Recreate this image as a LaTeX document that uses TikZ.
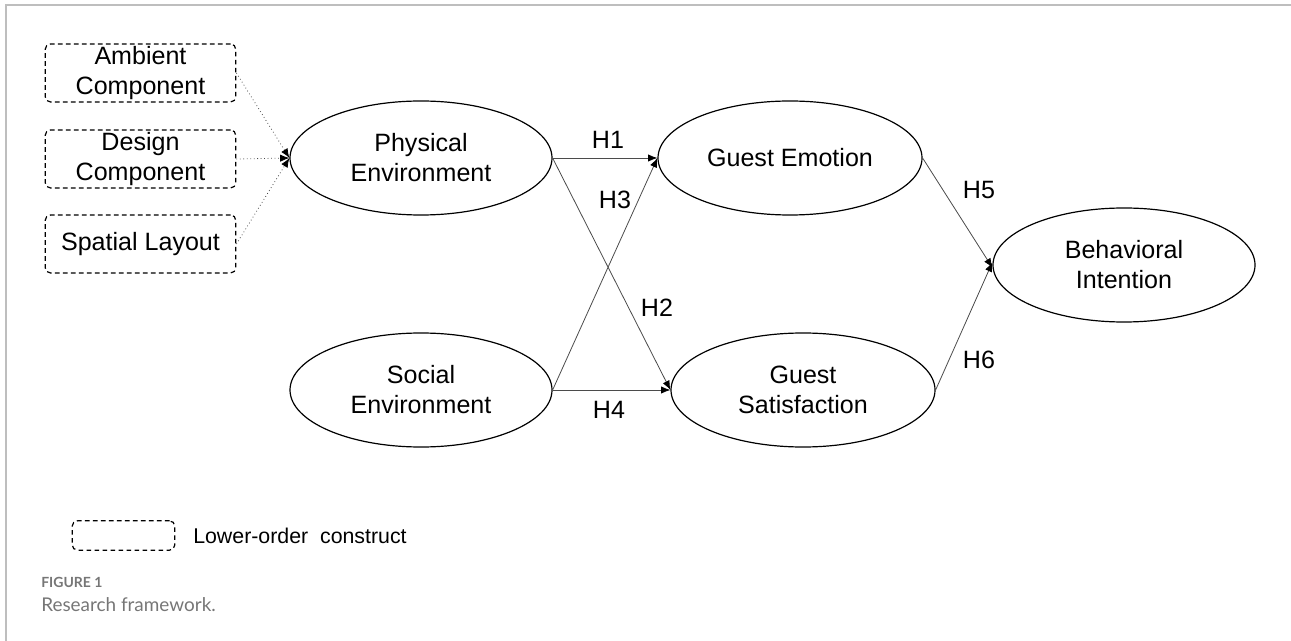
\documentclass[tikz,border=0pt]{standalone}
\usepackage{fontspec}
\setmainfont{Liberation Sans}
\newfontfamily\capfont{Lato}
\usepackage{tikz}
\usetikzlibrary{shapes,arrows.meta}

\definecolor{framegray}{RGB}{190,190,190}
\definecolor{capgray}{RGB}{118,118,118}
\definecolor{linegray}{RGB}{75,75,75}

\tikzset{
    construct/.style={ellipse, draw, line width=0.9pt, minimum width=196.5pt, minimum height=85.5pt,
        inner sep=0pt, align=center, font=\fontsize{18.8}{22.5}\selectfont},
    lowerbox/.style={draw, dash pattern=on 3.5pt off 2.5pt, line width=0.9pt, rounded corners=4pt,
        minimum width=143pt, minimum height=43.5pt, inner sep=0pt, align=center,
        font=\fontsize{18.8}{22.5}\selectfont},
    hyp/.style={draw=linegray, line width=0.6pt, -{Latex[length=7pt,width=5.5pt,color=black]}},
    subdim/.style={draw=linegray, line width=0.6pt, dotted, -{Latex[length=7pt,width=5.5pt,color=black]}},
    hlabel/.style={inner sep=0pt, font=\fontsize{18.8}{22}\selectfont}
}

\begin{document}
\begin{tikzpicture}[x=0.75pt,y=0.75pt,yscale=-1,xscale=1]
    \useasboundingbox (0,0) rectangle (1291,641);

    % Frame
    \draw [framegray, line width=1.5pt] (6,641) -- (6,5.5) -- (1291,5.5);

    % Lower-order constructs
    \node [lowerbox] (ambient) at (140.5,73) {Ambient\\Component};
    \node [lowerbox] (design) at (140.5,159) {Design\\Component};
    \node [lowerbox] (spatial) at (140.5,244) {Spatial Layout};

    % Constructs
    \node [construct] (physical) at (421,158) {Physical\\Environment};
    \node [construct] (social) at (421,390) {Social\\Environment};
    \node [construct, minimum width=198pt] (emotion) at (790,158) {Guest Emotion};
    \node [construct, minimum width=198pt] (satisf) at (803,390) {Guest\\Satisfaction};
    \node [construct] (intention) at (1124,265) {Behavioral\\Intention};

    % Dotted links
    \draw [subdim] (ambient.east) -- (physical.west);
    \draw [subdim] (design.east) -- (physical.west);
    \draw [subdim] (spatial.east) -- (physical.west);

    % Hypotheses
    \draw [hyp] (physical.east) -- (emotion.west);
    \draw [hyp] (physical.east) -- (satisf.west);
    \draw [hyp] (social.east) -- (emotion.west);
    \draw [hyp] (social.east) -- (satisf.west);
    \draw [hyp] (emotion.east) -- ([yshift=2pt]intention.west);
    \draw [hyp] (satisf.east) -- ([yshift=-2pt]intention.west);

    % Text Node
    \node [hlabel] (h1) at (608,140) {H1};
    \node [hlabel] (h3) at (615,200) {H3};
    \node [hlabel] (h2) at (657,308) {H2};
    \node [hlabel] (h4) at (609,410) {H4};
    \node [hlabel] (h5) at (979,190) {H5};
    \node [hlabel] (h6) at (979,360) {H6};

    % Legend
    \node [lowerbox, minimum width=77pt, minimum height=22pt] (legbox) at (123.5,535.5) {};
    \node [anchor=west, inner sep=0pt, font=\fontsize{16}{18}\selectfont] (legtext) at (193,535.5) {Lower-order~~construct};

    % Caption
    \node [anchor=base west, inner sep=0pt, text=capgray, font=\capfont\bfseries\fontsize{10.5}{12}\selectfont] (fignum) at (41,587) {FIGURE 1};
    \node [anchor=base west, inner sep=0pt, text=capgray, font=\capfont\fontsize{14.2}{16}\selectfont] (figcap) at (41,611) {Research framework.};

\end{tikzpicture}
\end{document}
